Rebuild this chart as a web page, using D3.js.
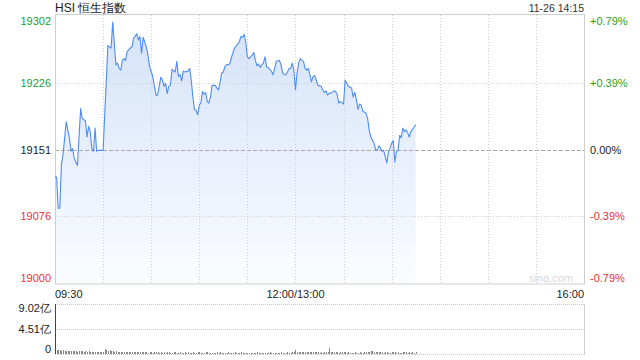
<!DOCTYPE html>
<html><head><meta charset="utf-8">
<script src="https://cdn.jsdelivr.net/npm/d3@7"></script>
<style>body{margin:0;background:#fff}svg{display:block;font-family:"Liberation Sans",Arial,sans-serif}</style>
</head><body><svg id="c" width="640" height="360"></svg>
<script>
const title = "HSI 恒生指数";
const stamp = "11-26 14:15";
const prevClose = 19151;
const priceTicks = [19000, 19076, 19151, 19226, 19302];
const pctLabels = ["-0.79%", "-0.39%", "0.00%", "+0.39%", "+0.79%"];
const timeLabels = ["09:30", "12:00/13:00", "16:00"];
const timeLabelAt = ["09:30", "12:00", "16:00"];
const volTicks = [0, 4.51, 9.02];
const volLabels = ["0", "4.51亿", "9.02亿"];

const times = [
"09:30","09:31","09:32","09:33","09:34","09:35","09:37","09:39","09:40","09:41","09:42","09:44","09:46","09:47","09:49","09:50","09:51","09:52","09:53","09:54","09:55","09:56","09:57","09:58","10:00",
"10:03","10:04","10:05","10:06","10:07","10:08","10:09","10:10","10:11","10:12","10:13","10:14","10:15","10:17","10:18","10:19","10:20","10:21","10:22","10:23","10:24","10:25","10:27","10:28","10:29",
"10:31","10:32","10:33","10:34","10:36","10:37","10:38","10:39","10:40","10:41","10:42","10:43","10:45","10:46","10:47","10:48","10:49","10:50","10:51","10:53","10:54","10:55","10:56","10:57","10:58","10:59",
"11:00","11:01","11:02","11:03","11:04","11:05","11:06","11:07","11:08","11:10","11:11","11:12","11:13","11:14","11:15","11:16","11:17","11:19","11:20","11:22","11:23","11:25","11:26","11:27","11:28","11:29",
"11:30","11:31","11:33","11:34","11:35","11:36","11:37","11:38","11:39","11:40","11:41","11:42","11:43","11:45","11:46","11:47","11:48","11:50","11:51","11:52","11:53","11:54","11:55","11:56","11:57","11:58","11:59",
"13:00","13:01","13:02","13:03","13:05","13:06","13:07","13:08","13:09","13:10","13:11","13:12","13:13","13:14","13:16","13:17","13:18","13:19","13:20","13:21","13:23","13:24","13:25","13:26","13:27","13:28",
"13:30","13:31","13:32","13:33","13:35","13:36","13:37","13:38","13:39","13:40","13:41","13:42","13:44","13:45","13:46","13:47","13:49","13:50","13:51","13:52","13:53","13:54","13:55","13:57","13:58","13:59",
"14:00","14:01","14:02","14:03","14:04","14:05","14:06","14:07","14:08","14:09","14:10","14:11","14:12","14:14","14:15"];
const prices = [
19120,19120,19085,19085,19134,19145,19182,19164,19149,19152,19141,19133,19197,19186,19183,19165,19177,19171,19152,19149,19175,19149,19150,19150,19150,
19268,19266,19265,19294,19270,19246,19248,19242,19240,19251,19253,19251,19261,19265,19266,19276,19278,19281,19274,19278,19259,19277,19266,19257,19244,
19233,19222,19212,19212,19232,19229,19222,19225,19214,19222,19223,19241,19238,19250,19233,19235,19228,19239,19238,19239,19242,19229,19210,19196,19195,19190,
19201,19203,19216,19213,19215,19205,19203,19210,19223,19223,19220,19218,19227,19237,19238,19244,19246,19247,19254,19265,19267,19272,19278,19277,19280,19272,
19255,19253,19257,19260,19251,19245,19247,19243,19246,19248,19255,19244,19243,19239,19235,19242,19250,19251,19246,19237,19235,19235,19238,19242,19242,19248,19240,
19218,19237,19248,19253,19250,19242,19240,19242,19235,19227,19233,19234,19229,19223,19222,19218,19215,19217,19212,19214,19215,19217,19216,19213,19203,19205,
19202,19229,19225,19222,19220,19210,19215,19207,19196,19202,19201,19194,19192,19186,19173,19165,19158,19151,19150,19155,19153,19149,19150,19136,19148,19152,
19158,19161,19137,19149,19150,19167,19164,19175,19171,19173,19170,19165,19171,19176,19179];

// volume (亿) for each trading minute starting 09:30
const volumes = [
9.02,
0.72,0.65,0.70,0.60,0.65,0.55,0.60,0.62,0.50,0.55,
0.58,0.50,0.52,0.45,0.55,0.50,0.48,0.42,0.50,0.45,
0.46,0.40,0.44,0.38,0.42,0.36,0.40,0.35,0.38,0.33,
0.85,0.70,0.60,0.65,0.50,0.55,0.45,0.48,0.42,0.40,
0.45,0.38,0.40,0.36,0.42,0.35,0.38,0.33,0.40,0.36,
0.32,0.35,0.30,0.38,0.28,0.30,0.33,0.27,0.30,0.28,
0.26,0.30,0.35,0.28,0.25,0.30,0.27,0.32,0.24,0.28,
0.30,0.26,0.24,0.28,0.33,0.25,0.27,0.30,0.24,0.26,
0.28,0.25,0.30,0.23,0.27,0.32,0.26,0.24,0.28,0.30,
0.25,0.27,0.23,0.28,0.30,0.24,0.26,0.22,0.27,0.25,
0.28,0.24,0.30,0.26,0.25,0.23,0.27,0.29,0.22,0.26,
0.24,0.28,0.25,0.23,0.27,0.40,0.24,0.22,0.26,0.25,
0.23,0.27,0.24,0.26,0.22,0.28,0.25,0.23,0.27,0.24,
0.26,0.22,0.25,0.28,0.23,0.26,0.24,0.22,0.27,0.25,
0.30,0.24,0.26,0.23,0.28,0.25,0.27,0.30,0.35,0.72,
0.45,0.40,0.42,0.30,0.33,0.38,0.30,0.28,0.35,0.30,
0.32,0.28,0.30,0.35,0.27,0.30,0.26,0.28,0.33,0.30,
1.05,0.35,0.30,0.40,0.28,0.30,0.27,0.28,0.32,0.30,
0.28,0.26,0.30,0.25,0.27,0.24,0.28,0.26,0.25,0.30,
0.27,0.25,0.30,0.32,0.40,0.45,0.50,0.55,0.42,0.35,
0.30,0.33,0.28,0.30,0.26,0.28,0.32,0.27,0.25,0.30,
0.35,0.28,0.26,0.30,0.27,0.25,0.28,0.45,0.30,0.26,
0.28,0.25,0.30,0.27,0.30];

function tradeMin(s){
  const [h, m] = s.split(":").map(Number);
  const t = h * 60 + m;
  return t <= 720 ? t - 570 : t - 780 + 150;
}

const svg = d3.select("#c");
const L = 55, R = 584, T = 15, B = 284, VT = 304, VB = 354;
const GREEN = "#1f9e1f", RED = "#f0302e", GRID = "#cfcfcf";

const x = d3.scaleLinear().domain([0, 330]).range([L, R]);
const y = d3.scaleLinear().domain([priceTicks[0], priceTicks[4]]).range([B, T]);
const yv = d3.scaleLinear().domain([0, volTicks[2]]).range([VB, VT]);

const defs = svg.append("defs");
const grad = defs.append("linearGradient").attr("id", "g").attr("gradientUnits", "userSpaceOnUse")
  .attr("x1", 0).attr("x2", 0).attr("y1", T).attr("y2", B);
grad.append("stop").attr("offset", 0).attr("stop-color", "#d3e2f8");
grad.append("stop").attr("offset", 1).attr("stop-color", "#fbfcff");

const pts = times.map((t, i) => ({m: tradeMin(t), v: prices[i]}));

// area
svg.append("path").datum(pts).attr("fill", "url(#g)")
  .attr("d", d3.area().x(d => x(d.m)).y0(B).y1(d => y(d.v)));

// grids
const gridG = svg.append("g");
d3.range(30, 330, 30).forEach(m => {
  gridG.append("line").attr("x1", Math.round(x(m)) + 0.5).attr("x2", Math.round(x(m)) + 0.5)
    .attr("y1", T).attr("y2", B).attr("stroke", GRID).attr("stroke-dasharray", "1,2");
});
priceTicks.slice(1, 4).forEach(v => {
  gridG.append("line").attr("x1", L).attr("x2", R)
    .attr("y1", Math.round(y(v)) + 0.5).attr("y2", Math.round(y(v)) + 0.5)
    .attr("stroke", v === prevClose ? "#aaa" : GRID)
    .attr("stroke-dasharray", v === prevClose ? "4,2" : "1,2");
});

// frame
svg.append("rect").attr("x", L + 0.5).attr("y", T - 0.5).attr("width", R - L).attr("height", B - T + 0.5)
  .attr("fill", "none").attr("stroke", "#cfcfcf");

// line
svg.append("path").datum(pts).attr("fill", "none").attr("stroke", "#4f8cf0").attr("stroke-width", 1.1)
  .attr("stroke-linejoin", "round")
  .attr("d", d3.line().x(d => x(d.m)).y(d => y(d.v)));

// watermark
svg.append("text").attr("x", 573).attr("y", 282).attr("text-anchor", "end")
  .attr("font-size", 11).attr("fill", "#d8d8d8").text("sina.com");

// left axis
const yAx = svg.append("g").attr("transform", `translate(${L},0)`)
  .call(d3.axisLeft(y).tickValues(priceTicks).tickSize(0).tickPadding(4).tickFormat(d3.format("d")));
yAx.select(".domain").remove();
yAx.selectAll("text").attr("font-size", 11).attr("font-family", "Liberation Sans, Arial, sans-serif")
  .attr("fill", d => d > prevClose ? GREEN : d < prevClose ? RED : "#222")
  .attr("dy", (d, i) => i === 0 ? "-0.22em" : i === 4 ? "0.82em" : "0.32em");

// right axis
const yAxR = svg.append("g").attr("transform", `translate(${R},0)`)
  .call(d3.axisRight(y).tickValues(priceTicks).tickSize(0).tickPadding(6).tickFormat((d, i) => pctLabels[i]));
yAxR.select(".domain").remove();
yAxR.selectAll("text").attr("font-size", 11).attr("font-family", "Liberation Sans, Arial, sans-serif")
  .attr("fill", d => d > prevClose ? GREEN : d < prevClose ? RED : "#222")
  .attr("dy", (d, i) => i === 0 ? "-0.22em" : i === 4 ? "0.82em" : "0.32em");

// x labels
timeLabels.forEach((lab, i) => {
  svg.append("text").attr("x", x(tradeMin(timeLabelAt[i]))).attr("y", 298)
    .attr("text-anchor", i === 0 ? "start" : i === 2 ? "end" : "middle")
    .attr("font-size", 11).attr("fill", "#222").text(lab);
});

// title & stamp
svg.append("text").attr("x", L).attr("y", 12).attr("font-size", 12).attr("fill", "#222").text(title);
svg.append("text").attr("x", R).attr("y", 12).attr("text-anchor", "end").attr("font-size", 10.5).attr("fill", "#333").text(stamp);

// volume panel
volTicks.forEach((v, i) => {
  svg.append("line").attr("x1", L).attr("x2", R).attr("y1", Math.round(yv(v)) + 0.5).attr("y2", Math.round(yv(v)) + 0.5)
    .attr("stroke", "#c8c8c8").attr("stroke-dasharray", "1,1");
  svg.append("text").attr("x", 51).attr("y", yv(v)).attr("text-anchor", "end").attr("font-size", 11).attr("fill", "#222")
    .attr("dy", i === 0 ? "-0.1em" : i === 2 ? "0.75em" : "0.35em").text(volLabels[i]);
});
svg.append("line").attr("x1", R + 0.5).attr("x2", R + 0.5).attr("y1", VT).attr("y2", VB + 1).attr("stroke", "#cfcfcf");
svg.append("g").selectAll("rect").data(volumes).join("rect")
  .attr("x", (d, i) => Math.round(x(i)))
  .attr("width", 1)
  .attr("y", d => Math.round(yv(d)))
  .attr("height", d => VB - Math.round(yv(d)))
  .attr("fill", (d, i) => i === 0 ? "#444" : "#888")
  .attr("shape-rendering", "crispEdges");
</script></body></html>
